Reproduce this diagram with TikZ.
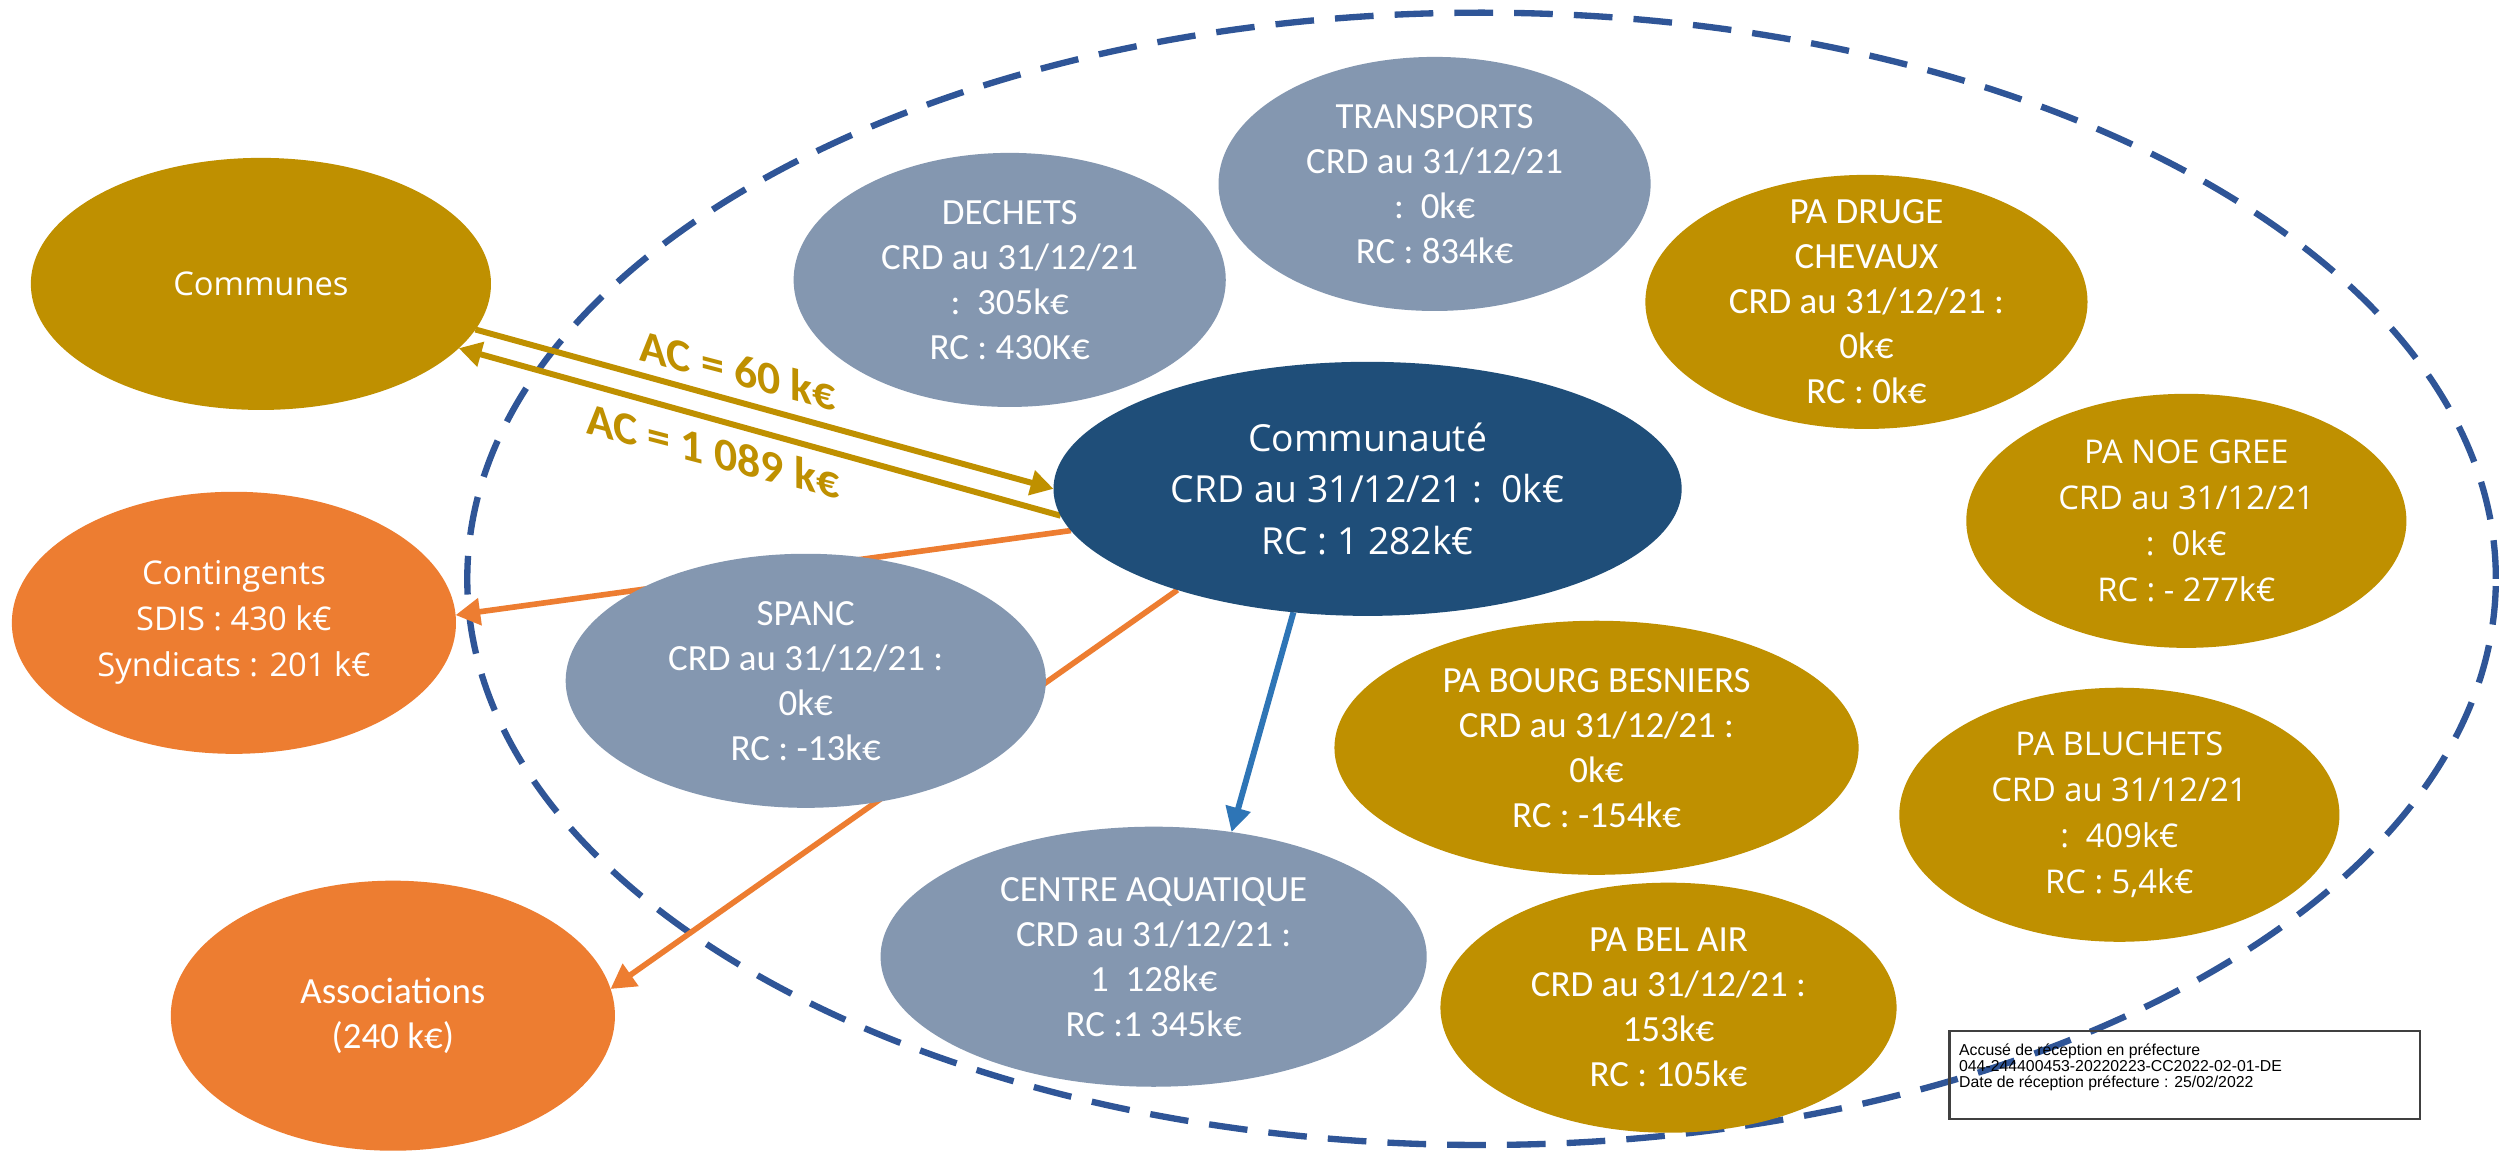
\documentclass[tikz,border=0pt]{standalone}
\usepackage{fontspec}
\setmainfont{Carlito}
\newfontfamily\widefont{Open Sans}
\newfontfamily\stampfont{Liberation Sans}
\usetikzlibrary{shapes.geometric,arrows.meta}
\definecolor{cgold}{HTML}{BF9000}
\definecolor{corange}{HTML}{ED7D31}
\definecolor{cgrey}{HTML}{8497B0}
\definecolor{cdark}{HTML}{1F4E79}
\definecolor{cblue}{HTML}{2E75B6}
\definecolor{cdash}{HTML}{2F5597}
\pgfdeclarelayer{back}
\pgfdeclarelayer{mid}
\pgfsetlayers{back,mid,main}
\begin{document}
\begin{tikzpicture}[x=0.01cm,y=-0.01cm,
  blob/.style={ellipse,inner xsep=0pt,inner ysep=-6pt,outer sep=0pt,text=white,align=center,
    font=\fontsize{10.5}{12.8}\selectfont},
  wide/.style={font=\widefont\fontsize{9.3}{13.1}\selectfont},
  sz/.style 2 args={minimum width=#1cm,minimum height=#2cm},
  goldblob/.style={blob,fill=cgold},
  greyblob/.style={blob,fill=cgrey},
  orangeblob/.style={blob,fill=corange},
  darkblob/.style={blob,fill=cdark,font=\widefont\fontsize{10.6}{14.6}\selectfont},
  zone/.style={ellipse,draw=cdash,line width=1.8pt,dash pattern=on 11pt off 6pt,inner sep=0pt},
  goldarrow/.style={draw=cgold,line width=1.7pt,-{Triangle[length=6.5pt,width=7pt]}},
  orangearrow/.style={draw=corange,line width=1.6pt,-{Triangle[length=7pt,width=7.5pt]}},
  bluearrow/.style={draw=cblue,line width=1.7pt,-{Triangle[length=7pt,width=7pt]}},
  aclabel/.style={text=cgold,font=\fontsize{13}{15}\selectfont\bfseries,yslant=-0.26,inner sep=0pt},
]
\begin{pgfonlayer}{back}
\fill[white] (0,0) rectangle (2499,1155);
\node[zone,minimum width=20.28cm,minimum height=11.32cm] (zone) at (1482,579) {};
\end{pgfonlayer}
\useasboundingbox (0,0) rectangle (2499,1155);

% outside
\node[goldblob,wide,sz={4.60}{2.52}] (comm) at (261,284) {Communes};
\node[orangeblob,wide,sz={4.44}{2.62}] (cont) at (234,623) {Contingents\\SDIS : 430 k€\\Syndicats : 201 k€};
\node[orangeblob,sz={4.44}{2.70}] (assoc) at (393,1016) {Associations\\(240 k€)};

% inside
\node[greyblob,sz={4.32}{2.54}] (dech) at (1010,280) {DECHETS\\CRD au 31/12/21\\:\ \ 305k€\\RC : 430K€};
\node[greyblob,sz={4.32}{2.54}] (trans) at (1435,184) {TRANSPORTS\\CRD au 31/12/21\\:\ \ 0k€\\RC : 834k€};
\node[goldblob,sz={4.42}{2.54}] (drug) at (1867,302) {PA DRUGE\\CHEVAUX\\CRD au 31/12/21 :\\0k€\\RC : 0k€};
\node[goldblob,wide,sz={4.40}{2.54}] (noe) at (2187,521) {PA NOE GREE\\CRD au 31/12/21\\:\ \ 0k€\\RC : - 277k€};
\node[darkblob,sz={6.28}{2.54}] (cty) at (1368,489) {Communauté\\CRD au 31/12/21 :\ \ 0k€\\RC : 1 282k€};
\node[greyblob,sz={4.80}{2.54}] (spanc) at (806,681) {SPANC\\CRD au 31/12/21 :\\0k€\\RC : -13k€};
\node[greyblob,sz={5.46}{2.60}] (aqua) at (1154,957) {CENTRE AQUATIQUE\\CRD au 31/12/21 :\\1\ \ 128k€\\RC :1 345k€};
\node[goldblob,sz={5.24}{2.54}] (bourg) at (1597,748) {PA BOURG BESNIERS\\CRD au 31/12/21 :\\0k€\\RC : -154k€};
\node[goldblob,sz={4.56}{2.50}] (bel) at (1669,1008) {PA BEL AIR\\CRD au 31/12/21 :\\153k€\\RC : 105k€};
\node[goldblob,wide,sz={4.40}{2.54}] (bluch) at (2120,815) {PA BLUCHETS\\CRD au 31/12/21\\:\ \ 409k€\\RC : 5,4k€};

% connectors (behind the ellipses)
\begin{pgfonlayer}{mid}
\draw[goldarrow] (comm.-12.7) -- (cty.180);
\draw[goldarrow] (cty.185.2) -- (comm.-18.5);
\draw[orangearrow] (cty.188.4) -- (cont.2.8);
\draw[orangearrow] (cty.208.4) -- (assoc.7.1);
\draw[bluearrow] (cty.239.3) -- (aqua.58.2);
\end{pgfonlayer}

\node[aclabel] (ac1) at (738,370) {AC = 60 k€};
\node[aclabel] (ac2) at (713,451) {AC = 1 089 k€};

% stamp
\node[draw=black!75,line width=0.6pt,minimum width=4.70cm,minimum height=0.88cm,anchor=north west,inner sep=0pt] (stamp) at (1949,1030) {};
\node[anchor=north west,inner sep=0pt,align=left,font=\stampfont\fontsize{4.5}{4.6}\selectfont] (stamptext) at (1959,1043) {Accusé de réception en préfecture\\044-244400453-20220223-CC2022-02-01-DE\\Date de réception préfecture : 25/02/2022};
\end{tikzpicture}
\end{document}
